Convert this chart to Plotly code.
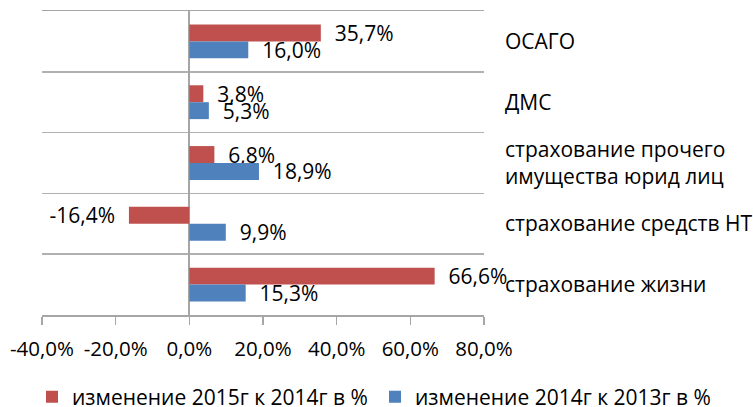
import plotly.graph_objects as go

categories = ["ОСАГО", "ДМС", "страхование прочего<br>имущества юрид лиц",
              "страхование средств НТ", "страхование жизни"]
series_2015 = [35.7, 3.8, 6.8, -16.4, 66.6]
series_2014 = [16.0, 5.3, 18.9, 9.9, 15.3]
name_2015 = "изменение 2015г к 2014г в %"
name_2014 = "изменение 2014г к 2013г в %"
tick_vals = [-40, -20, 0, 20, 40, 60, 80]
tick_text = ["-40,0%", "-20,0%", "0,0%", "20,0%", "40,0%", "60,0%", "80,0%"]

FONT = "Open Sans"
FS = 21
NB = "\u00a0"


def fmt(v):
    s = f"{v:.1f}%".replace(".", ",")
    return (s + NB * 2) if v < 0 else (NB * 2 + s)


fig = go.Figure()
fig.add_trace(go.Bar(
    y=categories, x=series_2015, orientation="h", name=name_2015,
    marker=dict(color="#C0504D", line=dict(width=0)),
    text=[fmt(v) for v in series_2015], textposition="outside",
    constraintext="none", cliponaxis=False,
    textfont=dict(family=FONT, size=FS, color="#000000"),
    legend="legend",
))
fig.add_trace(go.Bar(
    y=categories, x=series_2014, orientation="h", name=name_2014,
    marker=dict(color="#4F81BD", line=dict(width=0)),
    text=[fmt(v) for v in series_2014], textposition="outside",
    constraintext="none", cliponaxis=False,
    textfont=dict(family=FONT, size=FS, color="#000000"),
    legend="legend2",
))

legend_common = dict(orientation="h", xref="container", yref="container",
                     xanchor="left", yanchor="middle",
                     bgcolor="rgba(0,0,0,0)",
                     font=dict(family=FONT, size=FS, color="#000000"))

fig.update_layout(
    width=753, height=407,
    margin=dict(l=42, r=269, t=11, b=92, autoexpand=False),
    paper_bgcolor="white", plot_bgcolor="white",
    barmode="group", bargap=0.443, bargroupgap=0,
    font=dict(family=FONT, size=FS, color="#000000"),
    showlegend=True,
    legend=dict(x=32 / 753, y=1 - 397 / 407, **legend_common),
    legend2=dict(x=375 / 753, y=1 - 397 / 407, **legend_common),
    xaxis=dict(range=[-40, 80], tickvals=tick_vals, ticktext=tick_text,
               tickfont=dict(size=20.5),
               showgrid=False, zeroline=True, zerolinecolor="#A6A6A6", zerolinewidth=2,
               showline=True, linecolor="#A6A6A6", linewidth=1.5, mirror=True,
               ticks="outside", ticklen=8, tickcolor="#A6A6A6", tickwidth=1.5,
               ticklabelstandoff=7, automargin=False, fixedrange=True),
    yaxis=dict(type="category", autorange="reversed", side="right",
               showgrid=True, gridcolor="#B0B0B0", gridwidth=1.5,
               tickson="boundaries", ticks="", showline=False, zeroline=False,
               ticklabelstandoff=20, automargin=False, fixedrange=True),
)

fig.write_html("out.html",
               config={"displayModeBar": False, "staticPlot": True},
               post_script="document.body.style.margin='0';document.body.style.padding='0';")
